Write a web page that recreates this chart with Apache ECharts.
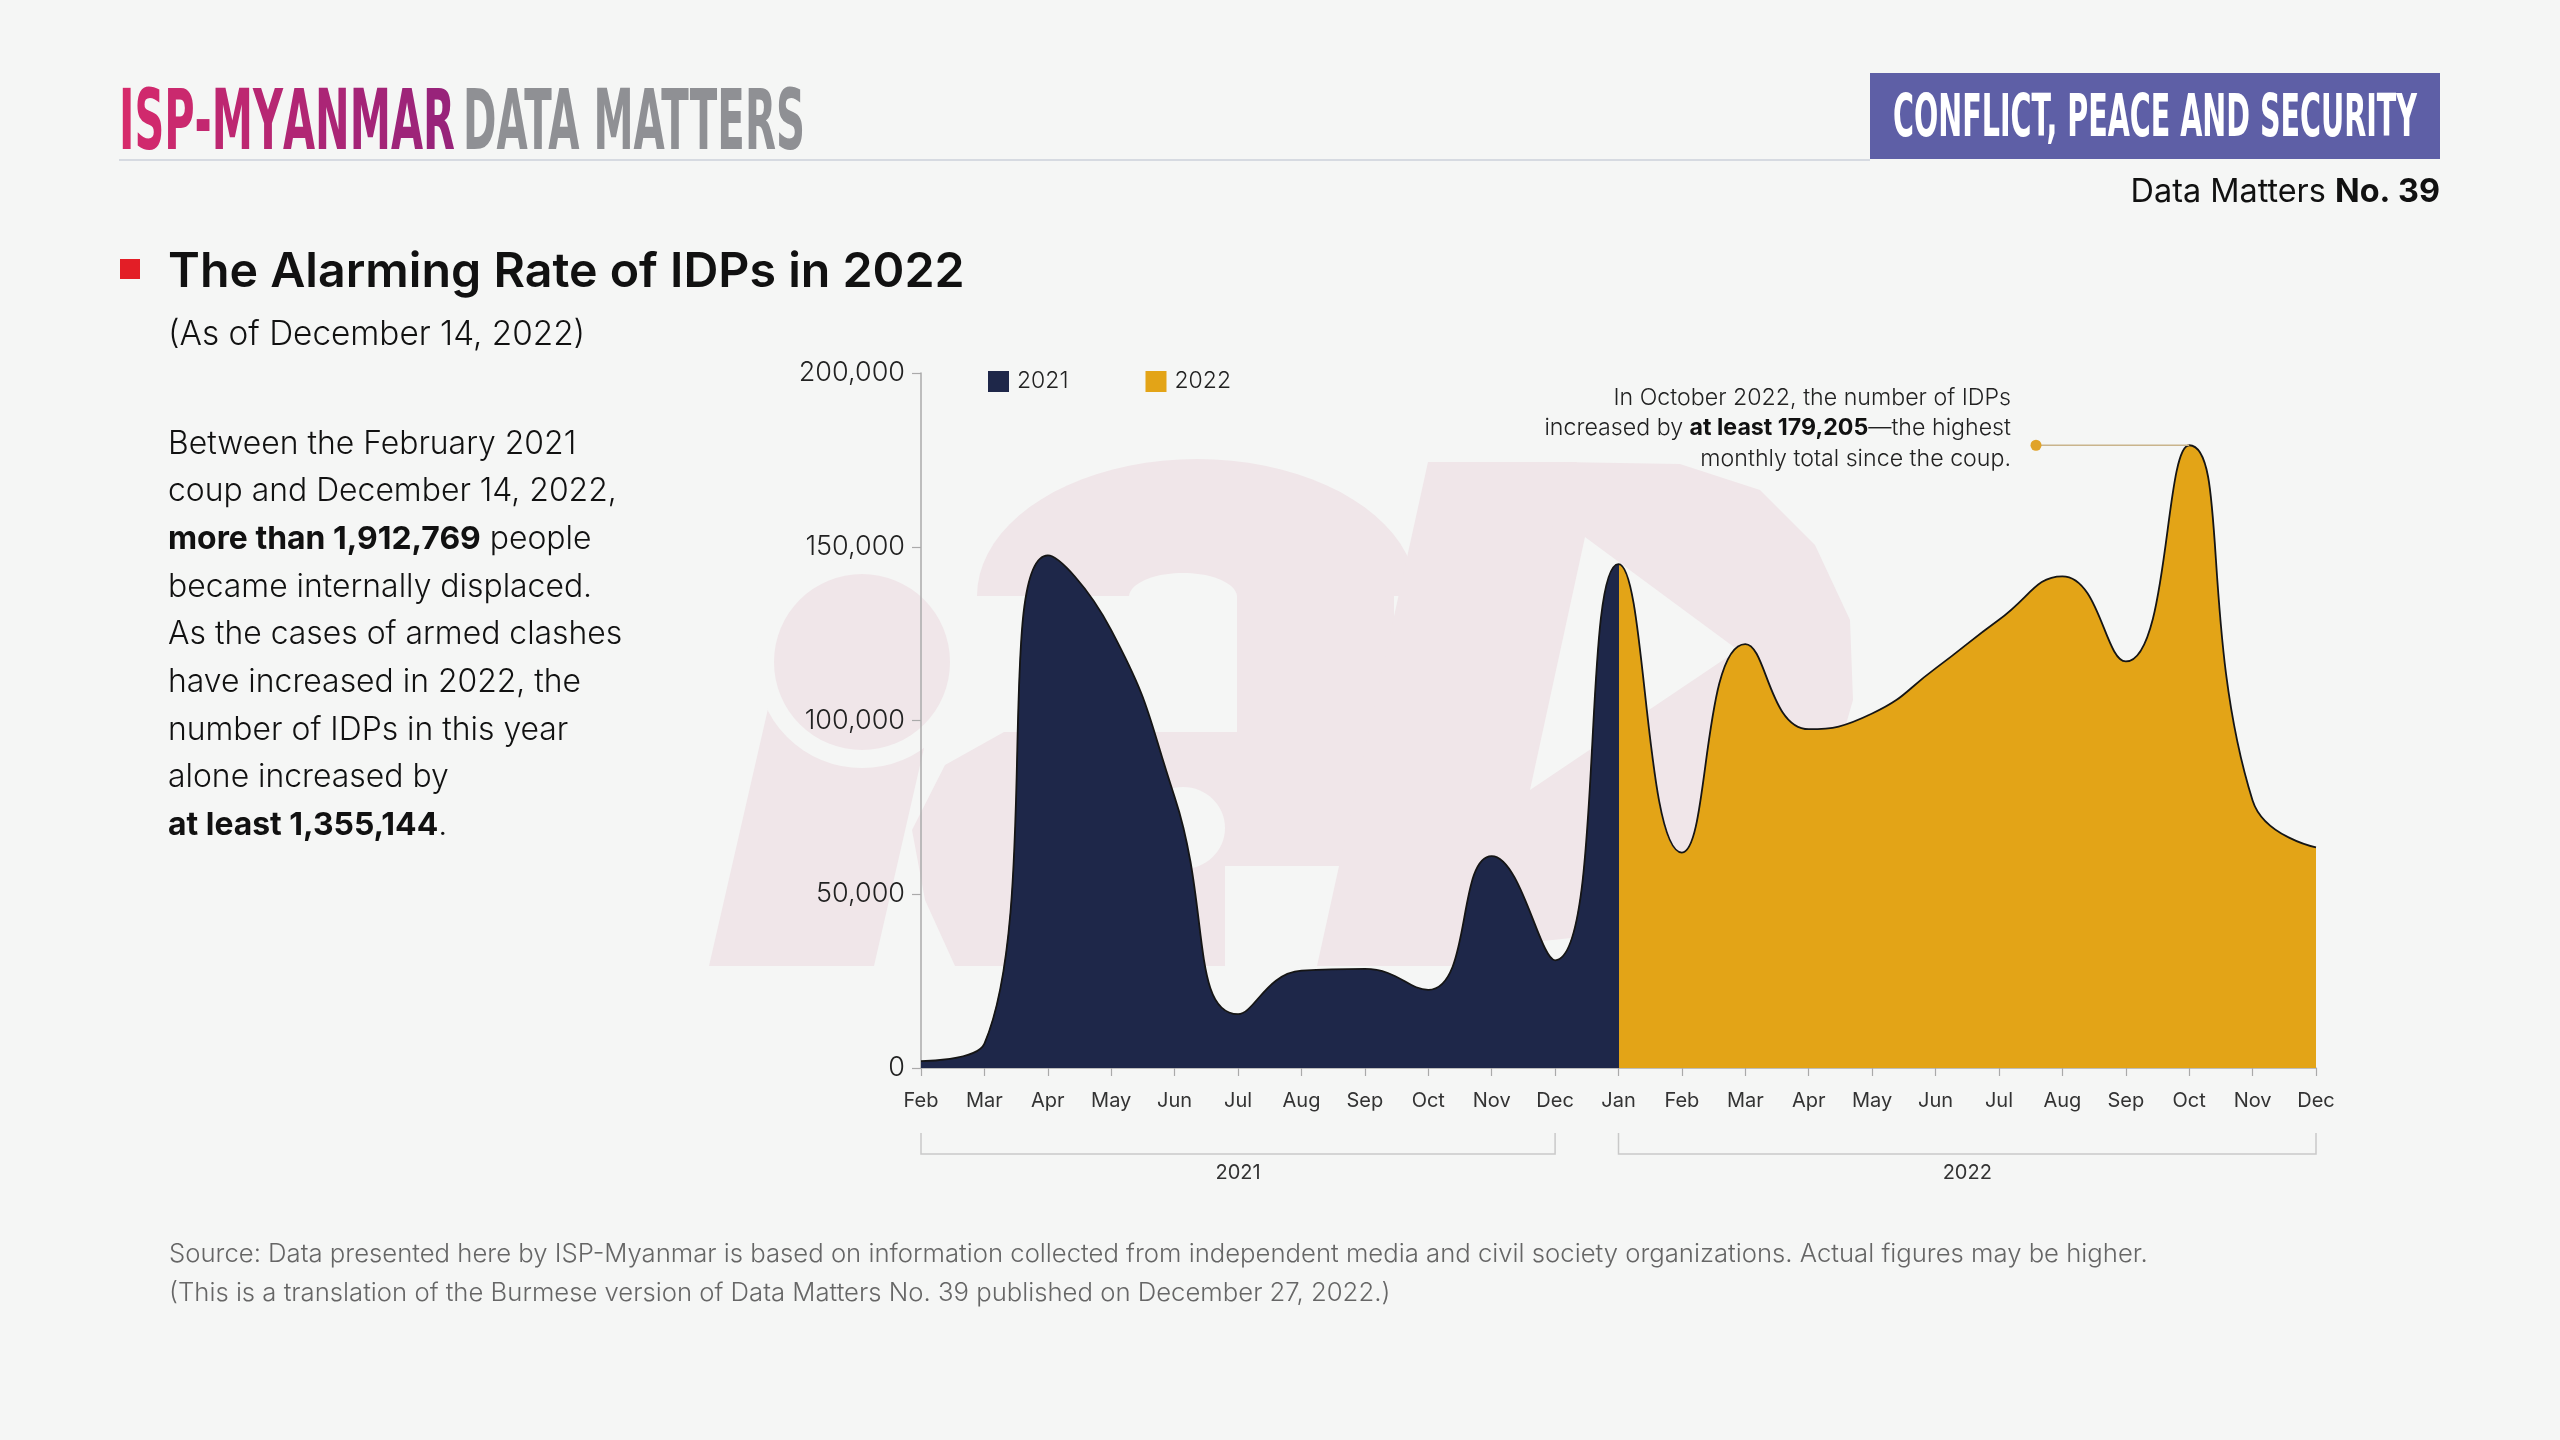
<!DOCTYPE html>
<html>
<head>
<meta charset="utf-8">
<script src="https://cdn.jsdelivr.net/npm/echarts@6/dist/echarts.min.js"></script>
<style>
html,body{margin:0;padding:0;background:#f5f6f5;}
#c{width:2560px;height:1440px;}
</style>
</head>
<body>
<div id="c"></div>
<script>
// ---------------- DATA ----------------
const categories = ['Feb 2021','Mar 2021','Apr 2021','May 2021','Jun 2021','Jul 2021','Aug 2021','Sep 2021','Oct 2021','Nov 2021','Dec 2021',
  'Jan 2022','Feb 2022','Mar 2022','Apr 2022','May 2022','Jun 2022','Jul 2022','Aug 2022','Sep 2022','Oct 2022','Nov 2022','Dec 2022'];
const idps2021 = [2000, 7000, 147500, 126000, 78000, 15500, 28000, 28500, 22500, 61000, 31000];           // Feb–Dec 2021
const idps2022 = [145000, 62000, 122000, 97500, 102000, 115000, 129000, 141500, 117000, 179205, 77000, 63500]; // Jan–Dec 2022
const yTicks = [0, 50000, 100000, 150000, 200000];
const seriesNames = ['2021', '2022'];
const yearGroups = [['2021', 0, 10], ['2022', 11, 22]];
const splitIndex = 11;   // Jan 2022: colour change
const peakIndex = 20;    // Oct 2022

// ---------------- STYLE ----------------
const BG = '#f5f6f5';
const NAVY = '#1e2749';
const GOLD = '#e3a417';
const FONT = "Inter, 'Noto Sans', sans-serif";
const COND = "'Liberation Sans Narrow', 'DejaVu Sans Condensed', sans-serif";
const WM = '#f0e6e9';

const mctx = document.createElement('canvas').getContext('2d');
function measure(text, weight, size, family) {
  mctx.font = weight + ' ' + size + 'px ' + family;
  return mctx.measureText(text).width;
}
function measureChars(text, weight, size, family) {
  return text.split('').reduce((s, ch) => s + measure(ch, weight, size, family), 0);
}
function fit(text, weight, base, family, target) {
  return Math.round(base * target / measure(text, weight, base, family) * 10) / 10;
}
function mix(c1, c2, t) {
  const a = [1, 3, 5].map(i => parseInt(c1.substr(i, 2), 16));
  const b = [1, 3, 5].map(i => parseInt(c2.substr(i, 2), 16));
  return 'rgb(' + a.map((v, i) => Math.round(v + (b[i] - v) * t)).join(',') + ')';
}

const allValues = idps2021.concat(idps2022);
const chart = echarts.init(document.getElementById('c'), null, {renderer: 'canvas', width: 2560, height: 1440});

chart.setOption({
  backgroundColor: BG,
  animation: false,
  textStyle: {fontFamily: FONT},
  grid: {left: 921, right: 244, top: 373, bottom: 372, outerBoundsMode: 'none', containLabel: false},
  legend: {
    data: seriesNames, left: 983, top: 365, padding: 5, icon: 'rect', itemWidth: 21, itemHeight: 21, itemGap: 77,
    selectedMode: false,
    textStyle: {fontSize: 23, color: '#222', fontFamily: FONT, fontWeight: 300, padding: [0, 0, 0, 3]}
  },
  xAxis: {
    type: 'category', data: categories, boundaryGap: false,
    axisLine: {show: true, lineStyle: {color: '#aaaaaa', width: 1.5}},
    axisTick: {show: true, length: 8, lineStyle: {color: '#aaaaaa', width: 1.2}},
    axisLabel: {interval: 0, fontSize: 20, color: '#333', margin: 23, fontFamily: FONT, fontWeight: 400,
      formatter: v => v.split(' ')[0]},
    splitLine: {show: false}
  },
  yAxis: {
    type: 'value', min: yTicks[0], max: yTicks[yTicks.length - 1], interval: yTicks[1] - yTicks[0],
    axisLine: {show: true, lineStyle: {color: '#aaaaaa', width: 1.5}},
    axisTick: {show: true, length: 9, lineStyle: {color: '#aaaaaa', width: 1.2}},
    axisLabel: {fontSize: 27, color: '#222', margin: 16, fontFamily: FONT, fontWeight: 300, padding: [0, 0, 6, 0],
      formatter: v => v.toLocaleString('en-US')},
    splitLine: {show: false}
  },
  series: [
    {
      type: 'line', name: 'IDPs', data: allValues, smooth: 0.5, symbol: 'none', showSymbol: false,
      lineStyle: {color: '#151515', width: 1.8},
      areaStyle: {opacity: 1, color: NAVY}, z: 3, silent: true
    },
    {type: 'bar', name: seriesNames[0], data: [], itemStyle: {color: NAVY}},
    {type: 'bar', name: seriesNames[1], data: [], itemStyle: {color: GOLD}}
  ]
});

// two-colour fill split exactly at Jan 2022 (position from the axis scale)
const x0 = chart.convertToPixel({gridIndex: 0}, [0, 0])[0];
const x1 = chart.convertToPixel({gridIndex: 0}, [categories.length - 1, 0])[0];
const xs = chart.convertToPixel({gridIndex: 0}, [splitIndex, 0])[0];
const f = (xs - x0) / (x1 - x0);
chart.setOption({series: [{
  areaStyle: {opacity: 1, color: new echarts.graphic.LinearGradient(x0, 0, x1, 0, [
    {offset: 0, color: NAVY}, {offset: f, color: NAVY}, {offset: f, color: GOLD}, {offset: 1, color: GOLD}], true)}
}]});

// ---------------- GRAPHICS ----------------
const g = [];
function txt(o) { g.push(Object.assign({type: 'text', silent: true, z: 10}, o)); }

// watermark (faint logo)
function halfEllipse(cx, cy, rx, ry, upper) {
  const pts = [];
  for (let i = 0; i <= 40; i++) {
    const a = Math.PI * i / 40;
    pts.push([cx - rx * Math.cos(a), cy + (upper ? -1 : 1) * ry * Math.sin(a)]);
  }
  return pts;
}
const wm = [
  {type: 'polygon', shape: {points: [[709,966],[874,966],[935,700],[770,700]]}, style: {fill: WM}},
  {type: 'circle', shape: {cx: 862, cy: 662, r: 106}, style: {fill: BG}},
  {type: 'circle', shape: {cx: 862, cy: 662, r: 88}, style: {fill: WM}},
  {type: 'polygon', shape: {points: halfEllipse(1197, 596, 220, 137, true)}, style: {fill: WM}},
  {type: 'polygon', shape: {points: halfEllipse(1183, 597, 54, 24, true)}, style: {fill: BG}},
  {type: 'polygon', shape: {points: [[1237,595],[1394,595],[1394,733],[1237,733]]}, style: {fill: WM}},
  {type: 'polygon', shape: {points: [[1004,732],[1543,732],[1520,866],[1225,866],[1225,966],[955,966],[925,900],[912,830],[945,765]]}, style: {fill: WM}},
  {type: 'ellipse', shape: {cx: 1183, cy: 828, rx: 42, ry: 41}, style: {fill: BG}},
  {type: 'polygon', shape: {points: [[1428,462],[1577,462],[1501,966],[1317,966]]}, style: {fill: WM}},
  {type: 'polygon', shape: {points: [[1560,462],[1680,464],[1760,490],[1815,545],[1850,620],[1853,700],[1830,780],[1780,850],[1700,905],[1600,935],[1505,945]]}, style: {fill: WM}},
  {type: 'polygon', shape: {points: [[1585,537],[1738,650],[1530,790]]}, style: {fill: BG}}
];
wm.forEach(e => { e.z = -10; e.silent = true; g.push(e); });

// header (per-letter gradient pink -> purple)
const hSize = 84;
const brand = 'ISP-MYANMAR';
const brandRich = {};
let brandText = '';
brand.split('').forEach((ch, i) => {
  brandRich['c' + i] = {fontFamily: COND, fontWeight: 'bold', fontSize: hSize, fill: mix('#d62a6b', '#98237a', i / (brand.length - 1))};
  brandText += '{c' + i + '|' + ch + '}';
});
txt({x: 119, y: 127, scaleX: 336 / measureChars(brand, 'bold', hSize, COND),
  style: {text: brandText, rich: brandRich, align: 'left', verticalAlign: 'middle'}});
txt({x: 463, y: 127, scaleX: 342 / measure('DATA MATTERS', 'bold', hSize, COND),
  style: {text: 'DATA MATTERS', fontFamily: COND, fontWeight: 'bold', fontSize: hSize, align: 'left', verticalAlign: 'middle', fill: '#8f9094'}});
g.push({type: 'line', silent: true, z: 5, shape: {x1: 119, y1: 160, x2: 1870, y2: 160}, style: {stroke: '#d6dae1', lineWidth: 2}});
g.push({type: 'rect', silent: true, z: 6, shape: {x: 1870, y: 73, width: 570, height: 86}, style: {fill: '#5e5fa6'}});
const bSize = 58;
txt({x: 1893, y: 121, scaleX: 524 / measure('CONFLICT, PEACE AND SECURITY', 'bold', bSize, COND),
  style: {text: 'CONFLICT, PEACE AND SECURITY', fontFamily: COND, fontWeight: 'bold', fontSize: bSize, align: 'left', verticalAlign: 'middle', fill: '#ffffff'}});
const dmSize = fit('Data Matters No. 39', 400, 34, FONT, 307);
txt({x: 2440, y: 192, style: {text: '{l|Data Matters }{b|No. 39}', align: 'right', verticalAlign: 'middle',
  rich: {l: {fontFamily: FONT, fontSize: dmSize, fontWeight: 400, fill: '#111'}, b: {fontFamily: FONT, fontSize: dmSize, fontWeight: 700, fill: '#111'}}}});

// title block
g.push({type: 'rect', silent: true, z: 6, shape: {x: 120, y: 259, width: 20, height: 20}, style: {fill: '#e31e26'}});
const tSize = fit('The Alarming Rate of IDPs in 2022', 600, 50, FONT, 797);
txt({x: 168, y: 272, style: {text: 'The Alarming Rate of IDPs in 2022', fontFamily: FONT, fontWeight: 600, fontSize: tSize, fill: '#111', align: 'left', verticalAlign: 'middle'}});
const subSize = fit('(As of December 14, 2022)', 300, 34, FONT, 417);
txt({x: 168, y: 335, style: {text: '(As of December 14, 2022)', fontFamily: FONT, fontWeight: 300, fontSize: subSize, fill: '#111', align: 'left', verticalAlign: 'middle'}});

const pSize = fit('As the cases of armed clashes', 300, 33, FONT, 455);
const para = [
  'Between the February 2021',
  'coup and December 14, 2022,',
  '{b|more than 1,912,769} people',
  'became internally displaced.',
  'As the cases of armed clashes',
  'have increased in 2022, the',
  'number of IDPs in this year',
  'alone increased by',
  '{b|at least 1,355,144}.'
];
para.forEach((line, i) => {
  txt({x: 168, y: 444 + i * 47.7, style: {text: '{n|' + line.replace(/\{b\|([^}]*)\}/g, '}{b|$1}{n|') + '}', align: 'left', verticalAlign: 'middle',
    rich: {n: {fontFamily: FONT, fontWeight: 300, fontSize: pSize, fill: '#111'}, b: {fontFamily: FONT, fontWeight: 700, fontSize: pSize, fill: '#111'}}}});
});

// footer
const foot1 = 'Source: Data presented here by ISP-Myanmar is based on information collected from independent media and civil society organizations. Actual figures may be higher.';
const foot2 = '(This is a translation of the Burmese version of Data Matters No. 39 published on December 27, 2022.)';
const fSize = fit(foot1, 300, 26, FONT, 1982);
txt({x: 169, y: 1254, style: {text: foot1, fontFamily: FONT, fontWeight: 300, fontSize: fSize, fill: '#666', align: 'left', verticalAlign: 'middle'}});
txt({x: 169, y: 1293, style: {text: foot2, fontFamily: FONT, fontWeight: 300, fontSize: fSize, fill: '#666', align: 'left', verticalAlign: 'middle'}});

// annotation
const aSize = fit('In October 2022, the number of IDPs', 300, 24, FONT, 398);
const annLines = ['{n|In October 2022, the number of IDPs}', '{n|increased by }{b|at least 179,205}{n|—the highest}', '{n|monthly total since the coup.}'];
annLines.forEach((l, i) => {
  txt({x: 2011, y: 398 + i * 30.5, style: {text: l, align: 'right', verticalAlign: 'middle',
    rich: {n: {fontFamily: FONT, fontWeight: 300, fontSize: aSize, fill: '#222'}, b: {fontFamily: FONT, fontWeight: 700, fontSize: aSize, fill: '#111'}}}});
});
const peak = chart.convertToPixel({gridIndex: 0}, [peakIndex, allValues[peakIndex]]);
g.push({type: 'line', silent: true, z: 8, shape: {x1: 2036, y1: peak[1], x2: peak[0], y2: peak[1]}, style: {stroke: '#c9b48c', lineWidth: 1.5}});
g.push({type: 'circle', silent: true, z: 9, shape: {cx: 2036, cy: peak[1], r: 5.5}, style: {fill: '#e0a32a'}});

// year brackets
yearGroups.forEach(([label, a, b]) => {
  const xa = chart.convertToPixel({gridIndex: 0}, [a, 0])[0];
  const xb = chart.convertToPixel({gridIndex: 0}, [b, 0])[0];
  g.push({type: 'polyline', silent: true, z: 8, shape: {points: [[xa, 1133], [xa, 1154], [xb, 1154], [xb, 1133]]}, style: {stroke: '#c9c9c9', lineWidth: 1.5, fill: null}});
  txt({x: (xa + xb) / 2, y: 1173, style: {text: label, fontFamily: FONT, fontWeight: 400, fontSize: 20, fill: '#333', align: 'center', verticalAlign: 'middle'}});
});

chart.setOption({graphic: {elements: g}});
</script>
</body>
</html>
